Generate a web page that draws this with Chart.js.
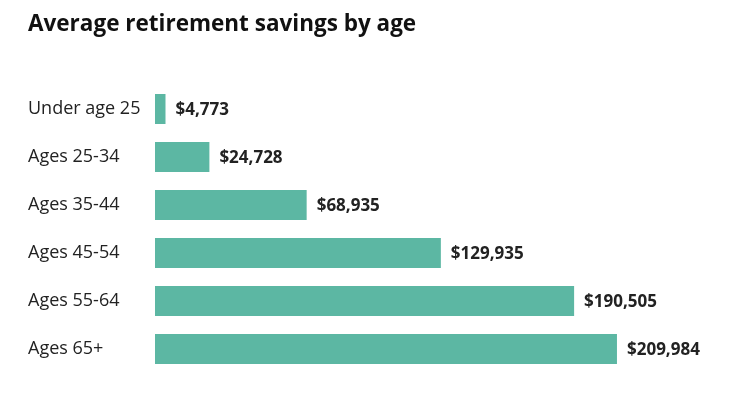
<!DOCTYPE html>
<html>
<head>
<meta charset="utf-8">
<script src="https://cdn.jsdelivr.net/npm/chart.js@4/dist/chart.umd.min.js"></script>
<style>
  html, body { margin: 0; padding: 0; background: #ffffff; }
  #wrap { width: 730px; height: 407px; position: relative; }
</style>
</head>
<body>
<div id="wrap"><canvas id="c" width="730" height="407"></canvas></div>
<script>
const categories = ["Under age 25", "Ages 25-34", "Ages 35-44", "Ages 45-54", "Ages 55-64", "Ages 65+"];
const savings = [4773, 24728, 68935, 129935, 190505, 209984];
const valueLabels = ["$4,773", "$24,728", "$68,935", "$129,935", "$190,505", "$209,984"];
const chartTitle = "Average retirement savings by age";

const FONT = "'Open Sans', Lato, sans-serif";

const valueLabelPlugin = {
  id: 'valueLabels',
  afterDatasetsDraw(chart) {
    const ctx = chart.ctx;
    const meta = chart.getDatasetMeta(0);
    ctx.save();
    ctx.font = "bold 17px " + FONT;
    ctx.fillStyle = "#222222";
    ctx.textAlign = "left";
    ctx.textBaseline = "middle";
    meta.data.forEach((bar, i) => {
      ctx.fillText(valueLabels[i], bar.x + 10, bar.y + 1);
    });
    ctx.restore();
  }
};

new Chart(document.getElementById('c'), {
  type: 'bar',
  data: {
    labels: categories,
    datasets: [{
      data: savings,
      backgroundColor: '#5cb7a3',
      borderWidth: 0,
      barPercentage: 0.625,
      categoryPercentage: 1.0
    }]
  },
  options: {
    indexAxis: 'y',
    responsive: false,
    animation: false,
    devicePixelRatio: 1,
    layout: { padding: { top: 0, left: 28, right: 25, bottom: 34 } },
    plugins: {
      legend: { display: false },
      tooltip: { enabled: false },
      title: {
        display: true,
        text: chartTitle,
        align: 'start',
        color: '#111111',
        font: { family: FONT, size: 22.5, weight: 'bold', lineHeight: 1.2 },
        padding: { top: 11, bottom: 47 }
      }
    },
    scales: {
      x: {
        display: false,
        min: 0,
        max: 250000,
        grid: { display: false }
      },
      y: {
        grid: { display: false, drawTicks: false },
        border: { display: false },
        ticks: {
          crossAlign: 'far',
          color: '#222222',
          padding: 0,
          font: { family: FONT, size: 18 }
        },
        afterFit(scale) { scale.width = 127; }
      }
    }
  },
  plugins: [valueLabelPlugin]
});
</script>
</body>
</html>
